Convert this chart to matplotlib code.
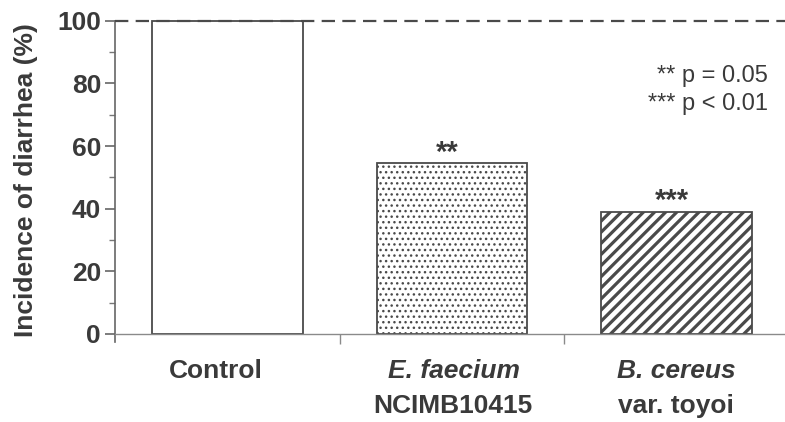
import matplotlib
matplotlib.use("Agg")
import matplotlib.pyplot as plt

# ---- data ----
categories = ["Control", "E. faecium", "B. cereus"]
line1 = ["Control", "E. faecium", "B. cereus"]
line2 = ["", "NCIMB10415", "var. toyoi"]
italic_first = [False, True, True]
values = [100, 54.5, 39]
hatches = [None, "...", "///"]
signif = ["", "**", "***"]
yticks = [0, 20, 40, 60, 80, 100]
legend_lines = ["** p = 0.05", "*** p < 0.01"]

TXT = "#3a3a3a"
LN = "#4a4a4a"
plt.rcParams["font.family"] = ["Liberation Sans", "DejaVu Sans"]

fig = plt.figure(figsize=(7.85, 4.22), dpi=100)
ax = fig.add_axes([115/785, 0.19, 1 - 115/785, 0.9547 - 0.19])

x = list(range(len(categories)))
for i, (v, h) in enumerate(zip(values, hatches)):
    hlw = 2.3 if h == "///" else 1.0
    plt.rcParams["hatch.linewidth"] = hlw
    b = ax.bar(x[i], v, width=0.67, color="white", edgecolor=LN,
               linewidth=1.3, hatch=h, zorder=2)
    for p in b.patches:
        if hasattr(p, "set_hatch_linewidth"):
            p.set_hatch_linewidth(hlw)

ax.set_xlim(-0.5, 2.482)
ax.set_ylim(-2.5, 100.5)

ax.axhline(100, color=LN, lw=1.6, linestyle=(0, (6, 3.3)), zorder=3,
           clip_on=False)

for s in ["top", "right"]:
    ax.spines[s].set_visible(False)
ax.spines["bottom"].set_position(("data", 0))
ax.spines["bottom"].set_color("#8a8a8a")
ax.spines["bottom"].set_linewidth(1.0)
ax.spines["left"].set_bounds(-2.5, 100)
ax.spines["left"].set_color("#666666")
ax.spines["left"].set_linewidth(1.2)

ax.set_yticks(yticks)
ax.set_yticks([10, 30, 50, 70, 90], minor=True)
ax.tick_params(axis="y", which="major", direction="out", length=7,
               width=1.2, color="#666666", labelsize=19, labelcolor=TXT,
               pad=3)
ax.tick_params(axis="y", which="minor", direction="out", length=4,
               width=1.0, color="#777777")
for lab in ax.get_yticklabels():
    lab.set_fontweight("bold")

ax.set_xticks([0.5, 1.5])
ax.set_xticklabels([])
ax.tick_params(axis="x", which="major", direction="out", length=7,
               width=1.0, color="#8a8a8a")

ax.set_ylabel("Incidence of diarrhea (%)", fontsize=19, fontweight="bold",
              color=TXT, labelpad=14)

# category labels
label_x_off = [-0.05, 0.01, 0.0]
for i in x:
    ax.text(x[i] + label_x_off[i], -14.0, line1[i], ha="center", va="baseline",
            fontsize=19, fontweight="bold",
            fontstyle="italic" if italic_first[i] else "normal",
            color=TXT, clip_on=False)
    if line2[i]:
        ax.text(x[i] + label_x_off[i] - 0.005, -25.2, line2[i], ha="center",
                va="baseline", fontsize=19, fontweight="bold", color=TXT,
                clip_on=False)

# significance marks
for i, (v, s) in enumerate(zip(values, signif)):
    if s:
        ax.text(x[i] - 0.02, v + 0.8, s, ha="center", va="baseline",
                fontsize=21, fontweight="bold", color=TXT)

# p-value key
ax.text(2.407, 80.4, legend_lines[0], ha="right", va="baseline",
        fontsize=17, color=TXT)
ax.text(2.407, 71.5, legend_lines[1], ha="right", va="baseline",
        fontsize=17, color=TXT)

fig.savefig("out.png", dpi=100)
